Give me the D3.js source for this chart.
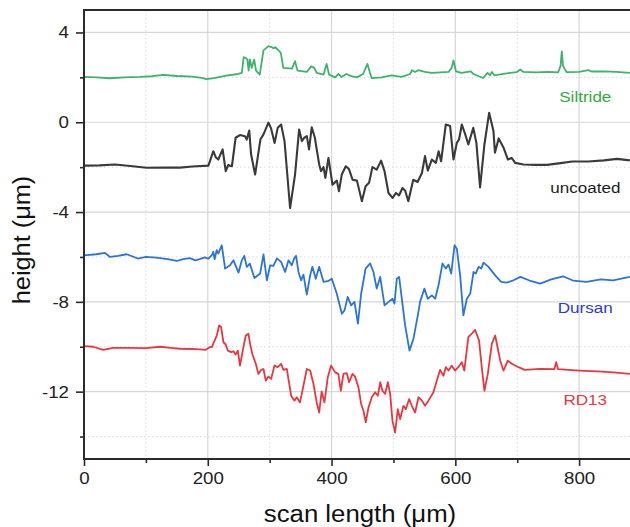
<!DOCTYPE html>
<html>
<head>
<meta charset="utf-8">
<script src="https://cdn.jsdelivr.net/npm/d3@7"></script>
<style>
  body { margin: 0; background: #fff; }
  svg { display: block; }
</style>
</head>
<body>
<div id="chart"></div>
<script>
// profile traces, [scan length (um), height (um)]
const siltride = [[0,2.02],[20,2.0],[42,1.96],[65,2.0],[90,2.02],[110,2.05],[128,2.11],[150,2.06],[175,2.03],[190,1.98],[198,1.92],[210,1.97],[230,2.08],[249,2.15],[255,2.2],[258,2.9],[262,2.85],[264,2.79],[266,2.3],[268,2.8],[271,2.42],[275,2.79],[278,2.3],[284,2.12],[290,3.2],[298,3.39],[303,3.35],[306,3.3],[309,3.34],[313,3.24],[318,3.09],[322,2.42],[336,2.39],[341,2.72],[345,2.3],[360,2.24],[367,2.49],[372,2.42],[376,2.2],[387,2.12],[392,2.6],[396,2.12],[406,2.0],[411,2.15],[416,2.02],[424,2.15],[432,2.05],[441,2.0],[451,2.15],[458,2.6],[462,2.2],[465,1.97],[481,2.0],[497,2.09],[513,2.02],[527,2.15],[530,2.32],[535,2.24],[540,2.32],[551,2.24],[562,2.2],[589,2.24],[594,2.42],[597,2.75],[601,2.27],[610,2.2],[625,2.27],[629,2.15],[645,1.97],[652,2.2],[656,2.09],[659,2.24],[663,2.09],[680,2.17],[699,2.23],[705,2.35],[710,2.24],[730,2.22],[750,2.24],[766,2.22],[770,2.5],[772,3.16],[774,2.5],[780,2.23],[800,2.24],[815,2.32],[820,2.26],[840,2.27],[860,2.24],[882,2.2]];

const uncoated = [[0,-1.93],[25,-1.92],[50,-1.88],[75,-1.95],[101,-2.03],[130,-2.02],[155,-2.02],[175,-1.97],[201,-1.93],[209,-1.29],[213,-1.56],[217,-1.66],[224,-1.21],[229,-2.18],[233,-1.91],[239,-1.96],[245,-0.69],[252,-0.57],[260,-0.62],[263,-0.77],[267,-0.37],[270,-1.44],[276.5,-2.33],[285,-0.77],[290,-0.54],[298,-0.02],[302,-0.25],[308,-0.92],[313,-0.25],[318.5,-0.1],[324,-0.84],[333,-3.82],[341,-2.33],[347.6,-0.32],[352,-0.84],[356,-0.69],[360,-0.62],[363.6,-1.21],[368,-0.22],[373,-0.69],[380,-1.88],[383,-2.18],[387,-2.0],[390,-2.48],[395,-1.59],[401.5,-2.78],[408.5,-2.6],[412,-3.07],[416.5,-2.33],[423,-1.96],[428,-2.08],[434,-2.56],[441,-2.6],[449,-3.52],[455,-2.85],[460.6,-2.7],[466,-2.0],[473,-2.11],[480,-1.71],[485.6,-2.18],[492,-3.15],[498.6,-3.37],[504,-3.15],[509,-3.26],[514.6,-2.93],[519,-3.05],[524,-3.52],[532,-2.56],[539,-2.66],[546,-2.26],[551,-1.51],[555.5,-2.15],[562,-1.66],[568.5,-1.81],[573,-1.29],[577,-1.74],[584.6,-0.1],[591.6,-0.17],[597,-1.66],[602.4,-0.92],[606,-0.77],[610.5,-0.1],[616,-0.54],[621,-0.99],[629,-0.25],[634,-0.92],[640,-2.9],[647,-0.99],[654.6,0.42],[661.6,-0.39],[664,-1.36],[670,-0.72],[678,-1.14],[685,-1.66],[691,-1.59],[696.7,-1.81],[710,-1.88],[730,-1.9],[748,-1.9],[770,-1.82],[789,-1.75],[815,-1.75],[840,-1.7],[861,-1.63],[882,-1.7]];

const dursan = [[0,-5.92],[4,-5.92],[20,-5.88],[34,-5.82],[42,-6.0],[55,-5.95],[69,-5.88],[87,-6.07],[100,-6.0],[117,-6.03],[135,-6.1],[150,-6.18],[160,-6.1],[171,-6.05],[180,-6.15],[187,-6.1],[195,-6.02],[201,-6.07],[206.5,-5.92],[209,-5.77],[211,-6.1],[214.5,-5.7],[217,-5.85],[222.6,-5.48],[228,-6.52],[236,-6.37],[241.5,-6.15],[249.6,-6.7],[255,-6.15],[259,-5.95],[263,-6.44],[268,-6.3],[275.4,-6.94],[284.6,-6.74],[290,-5.89],[295.5,-7.04],[300.8,-6.37],[306,-6.4],[311.6,-6.07],[318.5,-6.22],[325,-6.67],[330.4,-6.15],[335.7,-6.37],[340,-6.04],[342.7,-5.95],[346.5,-6.67],[350.8,-7.04],[354.6,-6.79],[360,-7.68],[365.4,-6.82],[369,-6.44],[374.5,-6.97],[380,-6.44],[387,-7.11],[394,-7.08],[400.4,-6.97],[408.5,-7.64],[416.6,-8.53],[421,-8.38],[426,-7.78],[431.7,-8.16],[437,-8.0],[442.6,-8.97],[447.8,-7.64],[455,-6.52],[462.4,-6.29],[467.7,-6.67],[473,-7.41],[478.6,-6.89],[485.6,-8.16],[492,-8.0],[498.6,-7.86],[501.7,-8.08],[505.4,-6.97],[509.2,-6.89],[513.5,-7.86],[518.9,-9.05],[525.9,-10.17],[532.3,-9.65],[539.4,-8.6],[543,-8.0],[550,-7.41],[555.5,-7.86],[562,-7.71],[567.4,-7.86],[572.8,-7.26],[579.3,-6.29],[584.6,-6.52],[589,-6.34],[593.3,-6.74],[598.7,-5.48],[602.4,-5.63],[607.8,-6.82],[613,-8.6],[618.6,-7.86],[624,-7.64],[629.4,-6.67],[633,-6.74],[637.5,-6.44],[641.8,-6.52],[645.5,-6.25],[653.6,-6.44],[664.4,-6.82],[674,-7.11],[683,-7.14],[694,-7.04],[705,-6.89],[720,-7.05],[737,-7.19],[755,-7.0],[774,-6.86],[790,-7.05],[812,-7.11],[835,-7.0],[855,-7.04],[870,-6.95],[882,-6.89]];

const rd13 = [[0,-9.97],[15,-10.0],[31,-10.14],[47,-10.05],[70,-10.05],[100,-10.06],[123,-10.0],[140,-10.05],[155,-10.09],[175,-10.1],[187,-10.12],[196,-10.14],[203,-10.02],[206.5,-10.02],[214.5,-9.5],[218.3,-9.05],[221.5,-9.12],[225.3,-9.8],[229,-9.9],[232.3,-10.17],[237.7,-10.24],[241.5,-10.2],[245,-10.35],[248.5,-10.17],[252,-10.84],[257.6,-10.02],[261.4,-9.5],[265.7,-9.42],[268.4,-9.87],[272,-10.32],[277.6,-10.76],[281.9,-11.21],[286,-11.03],[290,-10.99],[293.7,-11.51],[298,-11.33],[302.4,-11.43],[307.7,-10.84],[313,-10.91],[318.5,-10.76],[322.3,-11.03],[327.7,-10.99],[334.7,-12.18],[340,-12.4],[343.8,-12.25],[349,-12.48],[354.6,-11.73],[360,-10.99],[365.4,-11.06],[370.8,-11.66],[376,-12.48],[380,-12.93],[384,-11.99],[388.5,-12.48],[393.9,-11.36],[399.3,-10.84],[405.8,-11.14],[411,-11.21],[415,-11.96],[419.2,-11.21],[424.6,-11.18],[428.4,-11.58],[433.8,-11.21],[438,-11.33],[443.5,-11.81],[447.8,-12.55],[451.6,-12.85],[455.3,-13.37],[459.7,-12.7],[465,-12.25],[470.4,-12.03],[474.8,-12.18],[478.6,-11.58],[482.3,-11.96],[486.6,-12.1],[491,-11.58],[494.7,-12.1],[498.4,-13.3],[502.7,-13.82],[507,-12.78],[510.8,-13.22],[516.2,-12.63],[520,-12.78],[525.4,-12.33],[529.7,-12.63],[535,-12.93],[540.5,-12.25],[546,-12.4],[551,-12.63],[556.6,-12.4],[564.6,-12.03],[570,-11.51],[575.4,-11.03],[580.8,-11.29],[584.6,-10.91],[589,-11.06],[594,-10.84],[599.4,-11.06],[604.7,-10.91],[610.5,-10.69],[614.5,-11.06],[621,-9.57],[626.5,-9.42],[631.9,-9.25],[638.3,-9.72],[642.7,-10.91],[647,-11.96],[652.5,-11.21],[658.9,-9.87],[664.4,-9.5],[668.7,-10.09],[672.5,-10.62],[677.8,-11.06],[684.8,-10.62],[691.3,-10.76],[702,-10.91],[712,-11.03],[737,-10.99],[760,-11.0],[763,-10.69],[766,-11.0],[800,-11.06],[830,-11.1],[855,-11.14],[882,-11.21]];

const seriesNames = ["Siltride", "uncoated", "Dursan", "RD13"];
const seriesData = [siltride, uncoated, dursan, rd13];
const lineColors = ["#3db36b", "#3a3a3a", "#2b74d8", "#e8383f"];
const labelColors = ["#35a83f", "#1c1c1c", "#3038d8", "#e8383f"];
// label anchor positions in data units
const labelX = [810, 810, 810, 810];
const labelY = [0.92, -3.15, -8.5, -12.6];

const xMajor = [0, 200, 400, 600, 800];
const xMinor = [100, 300, 500, 700];
const yMajor = [4, 0, -4, -8, -12];
const yMinor = [2, -2, -6, -10, -14];

const width = 630;
const height = 527;
const margin = { top: 10, left: 84, bottom: 68 };
const font = "'Liberation Sans', Arial, sans-serif";

const x = d3.scaleLinear()
    .domain([0, 900])
    .range([margin.left, margin.left + 557]);

const y = d3.scaleLinear()
    .domain([-15, 5])
    .range([height - margin.bottom, margin.top]);

const svg = d3.select("#chart")
    .append("svg")
    .attr("width", width)
    .attr("height", height)
    .attr("viewBox", [0, 0, width, height])
    .style("font-family", font);

const plotRight = width;
const plotBottom = y(-15);

// the source figure is a bit wide in its text, stretch glyphs horizontally
function stretchText(sel, k) {
    sel.each(function() {
        const len = this.getComputedTextLength();
        d3.select(this)
            .attr("textLength", len * k)
            .attr("lengthAdjust", "spacingAndGlyphs");
    });
}

// grid: solid at majors, dotted at minors
const grid = svg.append("g");
grid.selectAll("line.vmaj")
    .data(xMajor.slice(1))
    .join("line")
    .attr("x1", d => x(d)).attr("x2", d => x(d))
    .attr("y1", margin.top).attr("y2", plotBottom)
    .attr("stroke", "#d6d6d6").attr("stroke-width", 1.2);
grid.selectAll("line.vmin")
    .data(xMinor)
    .join("line")
    .attr("x1", d => x(d)).attr("x2", d => x(d))
    .attr("y1", margin.top).attr("y2", plotBottom)
    .attr("stroke", "#d9d9d9").attr("stroke-dasharray", "1.5,2.5");
grid.selectAll("line.hmaj")
    .data(yMajor)
    .join("line")
    .attr("x1", margin.left).attr("x2", plotRight)
    .attr("y1", d => y(d)).attr("y2", d => y(d))
    .attr("stroke", "#d6d6d6").attr("stroke-width", 1.2);
grid.selectAll("line.hmin")
    .data(yMinor)
    .join("line")
    .attr("x1", margin.left).attr("x2", plotRight)
    .attr("y1", d => y(d)).attr("y2", d => y(d))
    .attr("stroke", "#d9d9d9").attr("stroke-dasharray", "1.5,2.5");

// traces
const line = d3.line()
    .x(d => x(d[0]))
    .y(d => y(d[1]));

svg.append("g")
    .selectAll("path")
    .data(seriesData)
    .join("path")
    .attr("fill", "none")
    .attr("stroke", (d, i) => lineColors[i])
    .attr("stroke-width", (d, i) => i === 1 ? 2.1 : 1.8)
    .attr("stroke-linejoin", "round")
    .attr("d", line);

// series labels
svg.append("g")
    .selectAll("text")
    .data(seriesNames)
    .join("text")
    .attr("x", (d, i) => x(labelX[i]))
    .attr("y", (d, i) => y(labelY[i]))
    .attr("text-anchor", "middle")
    .attr("fill", (d, i) => labelColors[i])
    .style("font-size", "15.5px")
    .text(d => d)
    .call(stretchText, 1.1);

// axes
const axisColor = "#2b2b2b";

svg.append("g")
    .attr("transform", `translate(0,${plotBottom})`)
    .call(d3.axisBottom(x).tickValues(xMajor).tickSize(7).tickPadding(6).tickFormat(d => String(d)))
    .call(g => g.select(".domain").remove());
svg.append("g")
    .attr("transform", `translate(0,${plotBottom})`)
    .call(d3.axisBottom(x).tickValues(xMinor).tickSize(4).tickFormat(""))
    .call(g => g.select(".domain").remove());

svg.append("g")
    .attr("transform", `translate(${margin.left},0)`)
    .call(d3.axisLeft(y).tickValues(yMajor).tickSize(8).tickPadding(7).tickFormat(d => String(d)))
    .call(g => g.select(".domain").remove());
svg.append("g")
    .attr("transform", `translate(${margin.left},0)`)
    .call(d3.axisLeft(y).tickValues(yMinor).tickSize(4).tickFormat(""))
    .call(g => g.select(".domain").remove());

svg.selectAll(".tick line")
    .attr("stroke", axisColor)
    .attr("stroke-width", 1.6);
svg.selectAll(".tick text")
    .attr("fill", "#222")
    .style("font-family", font)
    .style("font-size", "17px")
    .call(stretchText, 1.1);

// frame lines: left, bottom, top
svg.append("path")
    .attr("fill", "none")
    .attr("stroke", axisColor)
    .attr("stroke-width", 2)
    .attr("d", `M${plotRight},${margin.top}H${margin.left}V${plotBottom}H${plotRight}`);

// axis titles
svg.append("text")
    .attr("x", 360)
    .attr("y", 522)
    .attr("text-anchor", "middle")
    .attr("fill", "#111")
    .style("font-size", "23px")
    .text("scan length (\u03bcm)")
    .call(stretchText, 1.12);

svg.append("text")
    .attr("transform", `translate(30,${240}) rotate(-90)`)
    .attr("text-anchor", "middle")
    .attr("fill", "#111")
    .style("font-size", "23px")
    .text("height (\u03bcm)")
    .call(stretchText, 1.1);
</script>
</body>
</html>
